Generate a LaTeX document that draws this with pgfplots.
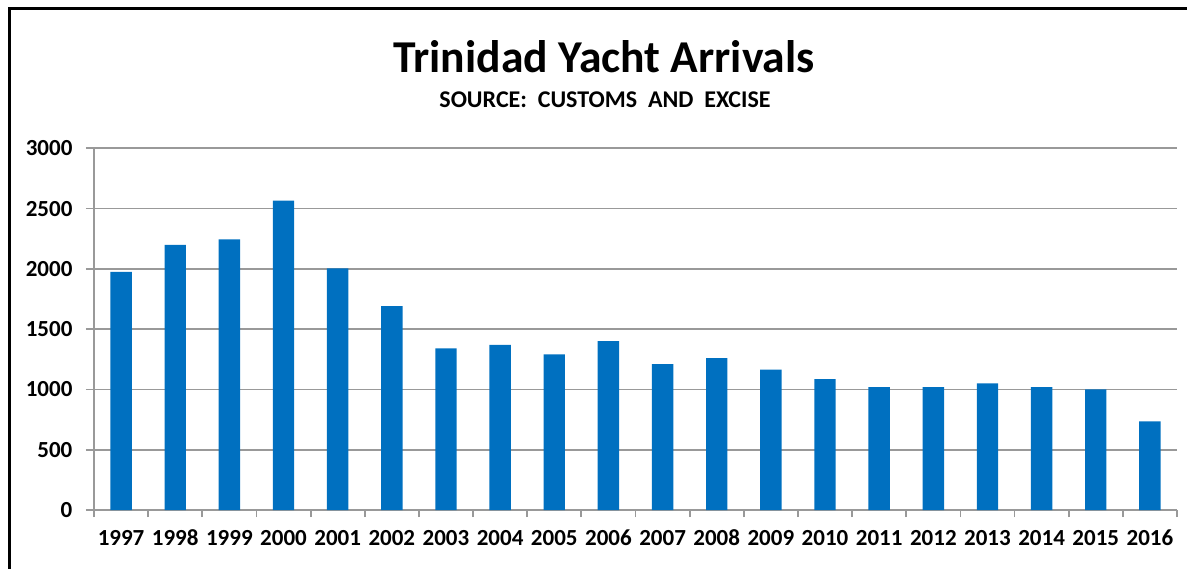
\documentclass[border=0pt]{standalone}
\usepackage{fontspec}
\setmainfont{Carlito}
\usepackage{pgfplots}
\pgfplotsset{compat=1.18}
\definecolor{excelblue}{HTML}{0070C0}
\definecolor{gridgray}{HTML}{999999}
\begin{document}
\begin{tikzpicture}
\useasboundingbox (0,0) rectangle (593.5pt,284pt);
\begin{scope}
\clip (0,0) rectangle (593.5pt,284pt);
\draw[line width=1.5pt, black] (4.5pt,-10pt) -- (4.5pt,279.5pt) -- (610pt,279.5pt);
\end{scope}
\node[anchor=base, inner sep=0pt] at (302pt,247.5pt) {\fontsize{22.8}{24}\selectfont\bfseries Trinidad Yacht Arrivals};
\node[anchor=base, inner sep=0pt] at (302.5pt,230pt) {\fontsize{12}{13}\selectfont\bfseries SOURCE:\ \ CUSTOMS\ \ AND\ \ EXCISE};
\begin{axis}[
  at={(47pt,29pt)}, anchor=south west,
  scale only axis, width=541.5pt, height=180.85pt,
  xmin=-0.5, xmax=19.5, ymin=0, ymax=3000,
  ybar, bar width=10.7pt,
  axis x line*=bottom, axis y line*=left,
  axis line style={gridgray, line width=0.9pt},
  xtick={0,...,19},
  xticklabels={1997,1998,1999,2000,2001,2002,2003,2004,2005,2006,2007,2008,2009,2010,2011,2012,2013,2014,2015,2016},
  minor xtick={-0.5,0.5,...,19.5},
  ytick={0,500,...,3000},
  scaled y ticks=false,
  /pgf/number format/1000 sep={},
  /pgf/number format/assume math mode=true,
  tick align=outside,
  major tick length=4pt, minor tick length=3.5pt,
  major x tick style={draw=none},
  minor x tick style={draw=gridgray, line width=0.9pt},
  major y tick style={draw=gridgray, line width=0.9pt},
  ymajorgrids, major grid style={gridgray, line width=0.9pt},
  tick label style={font=\fontsize{11.5}{12}\selectfont\bfseries, inner sep=0pt},
  xticklabel style={anchor=base, yshift=-13.9pt},
  yticklabel style={anchor=east, xshift=-6.6pt},
]
\addplot[fill=excelblue, draw=none] coordinates {
(0,1975) (1,2200) (2,2245) (3,2565) (4,2005) (5,1690) (6,1340) (7,1370) (8,1290) (9,1400)
(10,1210) (11,1260) (12,1165) (13,1085) (14,1020) (15,1020) (16,1050) (17,1020) (18,1000) (19,735)
};
\end{axis}
\end{tikzpicture}
\end{document}
